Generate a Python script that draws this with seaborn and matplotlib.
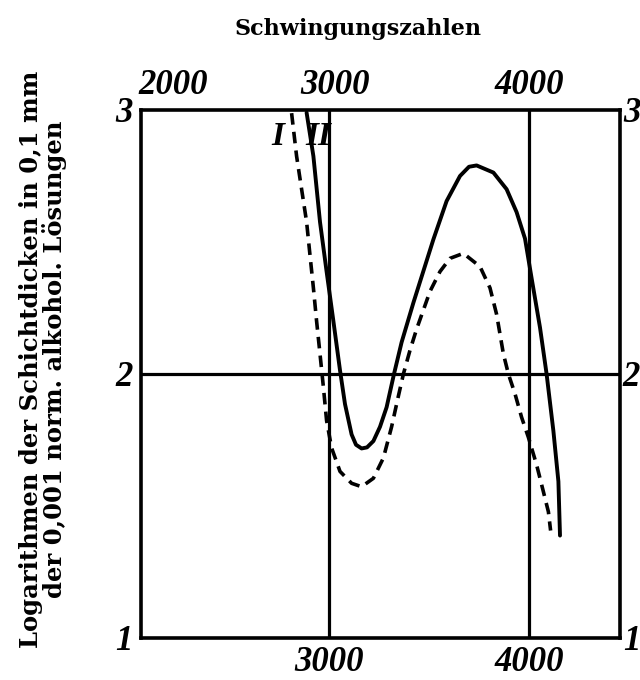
import numpy as np
import pandas as pd
import matplotlib
matplotlib.use("Agg")
import matplotlib.pyplot as plt
import seaborn as sns

# ==========================================
# Data
# ==========================================
# curve II (solid)
solid_x = [2888, 2922, 2955, 2988, 3022, 3055, 3080, 3113, 3135, 3163, 3190, 3222,
           3255, 3288, 3325, 3363, 3422, 3472, 3522, 3588, 3655, 3700, 3738, 3822, 3888,
           3938, 3980, 4013, 4055, 4088, 4122, 4147, 4155]
solid_y = [2.99, 2.825, 2.576, 2.388, 2.20, 2.014, 1.886, 1.771, 1.732, 1.718, 1.722, 1.746,
           1.80, 1.874, 2.0, 2.12, 2.27, 2.39, 2.51, 2.655, 2.75, 2.785, 2.79, 2.763, 2.70,
           2.613, 2.513, 2.363, 2.176, 2.0, 1.784, 1.593, 1.388]

# curve I (dashed)
dashed_x = [2813, 2838, 2863, 2888, 2905, 2922, 2938, 2955, 2972, 2988, 3013, 3055,
            3113, 3163, 3222, 3272, 3313, 3345, 3372, 3405, 3438, 3505, 3555, 3605,
            3672, 3755, 3805, 3838, 3872, 3897, 3930, 3963, 3997, 4038, 4072, 4097, 4108]
dashed_y = [2.988, 2.825, 2.70, 2.576, 2.45, 2.326, 2.20, 2.076, 1.95, 1.823, 1.72, 1.631,
            1.586, 1.573, 1.605, 1.682, 1.80, 1.91, 2.0, 2.09, 2.17, 2.313, 2.388, 2.438,
            2.457, 2.407, 2.326, 2.226, 2.076, 2.0, 1.925, 1.836, 1.76, 1.656, 1.554, 1.478, 1.407]

bottom_ticks = [3000, 4000]
bottom_labels = ["3000", "4000"]
top_ticks = [2220, 3030, 4000]   # the old top scale is not evenly spaced
top_labels = ["2000", "3000", "4000"]
y_ticks = [1, 2, 3]
y_labels = ["1", "2", "3"]

curve_labels = ["I", "II"]
curve_label_x = [2745, 2945]
curve_label_y = [2.90, 2.90]

title = "Schwingungszahlen"
ylabel = "Logarithmen der Schichtdicken in 0,1 mm\nder 0,001 norm. alkohol. Lösungen"

# ==========================================
# Plot
# ==========================================
sns.set_theme(style="white")
plt.rcParams["font.family"] = ["Liberation Serif", "DejaVu Serif"]
plt.rcParams.update({"text.color": "black", "axes.labelcolor": "black",
                     "xtick.color": "black", "ytick.color": "black"})

fig = plt.figure(figsize=(6.4, 6.8), dpi=100)
ax = fig.add_axes([141 / 640, 1 - 638 / 680, 479 / 640, 528 / 680])

solid = pd.DataFrame({"x": solid_x, "y": solid_y})
dashed = pd.DataFrame({"x": dashed_x, "y": dashed_y})
sns.lineplot(data=solid, x="x", y="y", ax=ax, color="black", lw=2.8,
             estimator=None, sort=False)
sns.lineplot(data=dashed, x="x", y="y", ax=ax, color="black", lw=2.6,
             estimator=None, sort=False, linestyle=(0, (3.2, 2.0)))

ax.set_xlim(2060, 4455)
ax.set_ylim(1, 3)

# grid: only the lines at 3000, 4000 and 2
for xv in bottom_ticks:
    ax.axvline(xv, color="black", lw=2.3, zorder=1)
ax.axhline(2, color="black", lw=2.3, zorder=1)

for s in ax.spines.values():
    s.set_color("black")
    s.set_linewidth(2.6)

num_font = dict(fontsize=25, fontweight="bold", fontstyle="italic")

ax.set_xticks(bottom_ticks, labels=bottom_labels, **num_font)
ax.set_yticks(y_ticks, labels=y_labels, **num_font)
ax.tick_params(axis="both", length=0)
ax.tick_params(axis="x", pad=6)
ax.tick_params(axis="y", pad=6)

top = ax.secondary_xaxis("top")
top.set_xticks(top_ticks, labels=top_labels, **num_font)
top.tick_params(length=0, pad=6)
top.spines["top"].set_visible(False)

right = ax.secondary_yaxis("right")
right.set_yticks(y_ticks, labels=y_labels, **num_font)
right.tick_params(length=0, pad=2)
right.spines["right"].set_visible(False)

for lab, lx, ly in zip(curve_labels, curve_label_x, curve_label_y):
    ax.text(lx, ly, lab, ha="center", va="center", fontsize=24,
            fontweight="bold", fontstyle="italic")

ax.set_xlabel("")
ax.set_ylabel(ylabel, fontsize=17.5, fontweight="bold", family="DejaVu Serif",
              linespacing=0.95)
ax.yaxis.set_label_coords(-0.155, 0.527)

fig.text(358 / 640, 1 - 29 / 680, title, ha="center", va="center",
         fontsize=16, fontweight="bold", family="DejaVu Serif")

fig.savefig("out.png", dpi=100)
